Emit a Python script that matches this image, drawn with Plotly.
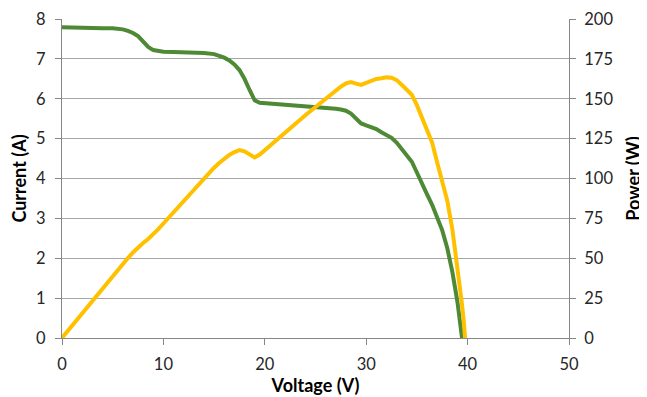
import plotly.graph_objects as go

voltage = [0, 1, 2, 3, 4, 5, 5.5, 6, 6.5, 7, 7.5, 8, 8.5, 9, 9.5, 10, 11, 12, 13, 14,
           15, 15.5, 16, 16.5, 17, 17.5, 18, 18.5, 19, 19.5, 20, 21, 22, 23, 24, 25,
           26, 27, 27.5, 28, 28.5, 29, 29.5, 30, 30.5, 31, 31.5, 32, 32.5, 33, 33.5,
           34, 34.5, 35, 35.5, 36, 36.5, 37, 37.5, 38, 38.5, 39, 39.25, 39.45, 39.6, 39.75]

current = [7.79, 7.78, 7.78, 7.77, 7.77, 7.77, 7.76, 7.74, 7.70, 7.65, 7.57, 7.45, 7.30,
           7.22, 7.19, 7.18, 7.17, 7.17, 7.16, 7.15, 7.12, 7.08, 7.03, 6.96, 6.86, 6.72,
           6.50, 6.22, 5.96, 5.90, 5.89, 5.88, 5.87, 5.85, 5.82, 5.79, 5.77, 5.75, 5.73,
           5.70, 5.63, 5.50, 5.38, 5.33, 5.29, 5.24, 5.16, 5.10, 5.02, 4.90, 4.74, 4.58,
           4.42, 4.15, 3.85, 3.60, 3.34, 3.05, 2.70, 2.25, 1.65, 0.90, 0.45, 0.0, None, None]

power = [0, 7.8, 15.6, 23.3, 31.1, 38.9, 42.7, 46.4, 50.1, 53.6, 56.8, 59.6, 62.1, 65.0,
         68.3, 71.8, 78.9, 86.0, 93.1, 100.1, 106.8, 109.7, 112.5, 114.8, 116.6, 117.8,
         117.0, 115.1, 113.2, 115.0, 117.8, 123.5, 129.1, 134.5, 139.7, 144.8, 150.0,
         155.3, 157.6, 159.6, 160.5, 159.5, 158.7, 159.9, 161.3, 162.4, 162.8, 163.4,
         163.2, 161.7, 158.8, 155.7, 152.5, 146.0, 138.5, 130.5, 122.5, 110.0, 98.0,
         86.0, 68.0, 45.0, 31.0, 21.0, 12.0, 0.0]

GREEN = "#4E8A35"
YELLOW = "#FFC000"
AXIS = "#868686"
GRID = "#A6A6A6"
FONT = "Lato, 'Open Sans', sans-serif"
TICK_SIZE = 16.5
TITLE_SIZE = 18

fig = go.Figure()
fig.add_trace(go.Scatter(x=voltage, y=current, mode="lines", name="Current",
                         line=dict(color=GREEN, width=4), yaxis="y"))
fig.add_trace(go.Scatter(x=voltage, y=power, mode="lines", name="Power",
                         line=dict(color=YELLOW, width=4), yaxis="y2"))

fig.update_layout(
    width=639, height=389,
    margin=dict(l=54, r=78, t=11, b=59),
    paper_bgcolor="white", plot_bgcolor="white",
    showlegend=False,
    font=dict(family=FONT, size=TICK_SIZE, color="#262626"),
    xaxis=dict(range=[0, 50], dtick=10, tick0=0, showgrid=False, zeroline=False,
               automargin=False, ticklabelstandoff=5,
               showline=True, linecolor=AXIS, linewidth=1, ticks="outside", ticklen=6,
               tickcolor=AXIS, title=dict(text="<b>Voltage (V)</b>", standoff=6,
                                          font=dict(size=TITLE_SIZE, color="#000000"))),
    yaxis=dict(range=[0, 8], dtick=1, tick0=0, showgrid=True, gridcolor=GRID, gridwidth=1,
               automargin=False, ticklabelstandoff=6,
               zeroline=False, showline=True, linecolor=AXIS, linewidth=1,
               ticks="outside", ticklen=6, tickcolor=AXIS,
               title=dict(text="<b>Current (A)</b>", standoff=9,
                          font=dict(size=TITLE_SIZE, color="#000000"))),
    yaxis2=dict(range=[0, 200], dtick=25, tick0=0, overlaying="y", side="right",
                automargin=False, ticklabelstandoff=5,
                showgrid=False, zeroline=False, showline=True, linecolor=AXIS, linewidth=1,
                ticks="outside", ticklen=6, tickcolor=AXIS,
                title=dict(text="<b>Power (W)</b>", standoff=14,
                           font=dict(size=TITLE_SIZE, color="#000000"))),
)

fig.write_html("out.html")
